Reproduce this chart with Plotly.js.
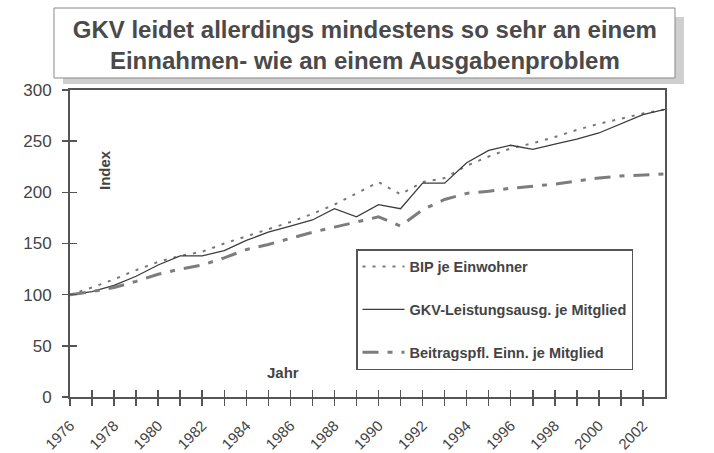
<!DOCTYPE html>
<html>
<head>
<meta charset="utf-8">
<script src="https://cdn.plot.ly/plotly-3.0.1.min.js"></script>
<style>html,body{margin:0;padding:0;background:#fff;}#chart{width:714px;height:453px;}</style>
</head>
<body>
<div id="chart"></div>
<script>
// ---- data (index, 1976 = 100) ----
const years = [1976,1977,1978,1979,1980,1981,1982,1983,1984,1985,1986,1987,1988,1989,1990,1991,1992,1993,1994,1995,1996,1997,1998,1999,2000,2001,2002,2003];
const bipJeEinwohner = [100,107,115,124,132,138,142,150,157,164,171,179,188,199,210,198,210,214,226,235,243,248,254,261,267,272,277,281];
const gkvLeistungsausg = [100,103,109,118,129,138,138,143,153,161,167,173,184,176,188,184,209,209,229,241,246,242,247,252,258,267,276,281];
const beitragspflEinn = [100,103,107,113,120,125,129,136,144,149,155,161,166,171,176,167,183,193,199,201,204,206,208,211,214,216,217,218];
const seriesNames = ["BIP je Einwohner","GKV-Leistungsausg. je Mitglied","Beitragspfl. Einn. je Mitglied"];
const tickYears = [1976,1977,1978,1979,1980,1981,1982,1983,1984,1985,1986,1987,1988,1989,1990,1991,1992,1993,1994,1995,1996,1997,1998,1999,2000,2001,2002];
const tickLabels = ["1976","","1978","","1980","","1982","","1984","","1986","","1988","","1990","","1992","","1994","","1996","","1998","","2000","","2002"];
const titleText = "GKV leidet allerdings mindestens so sehr an einem<br>Einnahmen- wie an einem Ausgabenproblem";

const FONT = "'Liberation Sans', Arial, sans-serif";
const AX = "#555";

const traces = [
  {type:"scatter", mode:"lines", x:years, y:bipJeEinwohner, name:seriesNames[0], legendgroup:"a",
   line:{color:"#777", width:2, dash:"3px,7px"}},
  {type:"scatter", mode:"lines", x:years, y:gkvLeistungsausg, name:seriesNames[1], legendgroup:"b",
   line:{color:"#3c3c3c", width:1.3}},
  {type:"scatter", mode:"lines", x:years, y:beitragspflEinn, name:seriesNames[2], legendgroup:"c",
   line:{color:"#7d7d7d", width:3, dash:"16px,9px,5px,9px"}},
  {type:"scatter", mode:"lines", x:[], y:[], xaxis:"x2", yaxis:"y2", showlegend:false, hoverinfo:"skip"}
];

const layout = {
  width:714, height:453,
  margin:{l:70, r:49, t:90, b:56},
  paper_bgcolor:"#fff", plot_bgcolor:"#fff",
  font:{family:FONT, color:"#444"},
  title:{text:titleText, font:{family:FONT, size:24, color:"#4a4a4a", weight:"bold"},
         xref:"container", x:0.511, xanchor:"center", yref:"container", y:0.917, yanchor:"middle"},
  xaxis:{range:[1976,2003], tickmode:"array", tickvals:tickYears, ticktext:tickLabels,
         ticks:"outside", ticklen:7, tickwidth:1.5, tickcolor:AX,
         showline:true, mirror:true, linecolor:AX, linewidth:2,
         showgrid:false, zeroline:false, tickangle:-45, ticklabelstandoff:5,
         tickfont:{family:FONT, size:15, color:"#444"}},
  yaxis:{range:[0,300], tickmode:"linear", tick0:0, dtick:50,
         ticks:"outside", ticklen:6, tickwidth:1.5, tickcolor:AX,
         showline:true, mirror:true, linecolor:AX, linewidth:2,
         showgrid:false, zeroline:false, ticklabelstandoff:7,
         tickfont:{family:FONT, size:17, color:"#444"}},
  xaxis2:{overlaying:"x", anchor:"y", range:[1976,2003], tickmode:"array", tickvals:tickYears,
          ticks:"inside", ticklen:7, tickwidth:1.5, tickcolor:AX,
          showticklabels:false, showline:false, showgrid:false, zeroline:false},
  yaxis2:{overlaying:"y", anchor:"x", side:"left", range:[0,300], tickmode:"linear", tick0:0, dtick:50,
          ticks:"inside", ticklen:7, tickwidth:1.5, tickcolor:AX,
          showticklabels:false, showline:false, showgrid:false, zeroline:false},
  showlegend:true,
  legend:{x:0.4807, y:0.482, xanchor:"left", yanchor:"top",
          bgcolor:"#fff", bordercolor:AX, borderwidth:1.5,
          traceorder:"grouped", tracegroupgap:21, itemwidth:42,
          font:{family:FONT, size:14.5, color:"#444", weight:"bold"}},
  shapes:[
    {type:"rect", xref:"paper", yref:"paper", x0:-0.0118, x1:1.0319, y0:1.0195, y1:1.2378,
     fillcolor:"#cfcfcf", line:{width:0}},
    {type:"rect", xref:"paper", yref:"paper", x0:-0.0269, x1:1.0168, y0:1.0391, y1:1.2671,
     fillcolor:"#fff", line:{color:"#888", width:1}}
  ],
  annotations:[
    {text:"Index", xref:"paper", yref:"paper", x:0.057, y:0.739, xanchor:"center", yanchor:"middle",
     textangle:-90, showarrow:false,
     font:{family:FONT, size:15, color:"#444", weight:"bold"}},
    {text:"Jahr", xref:"paper", yref:"paper", x:0.358, y:0.0814, xanchor:"center", yanchor:"middle",
     showarrow:false,
     font:{family:FONT, size:15, color:"#444", weight:"bold"}}
  ]
};

Plotly.newPlot("chart", traces, layout, {displayModeBar:false, staticPlot:true});
</script>
</body>
</html>
